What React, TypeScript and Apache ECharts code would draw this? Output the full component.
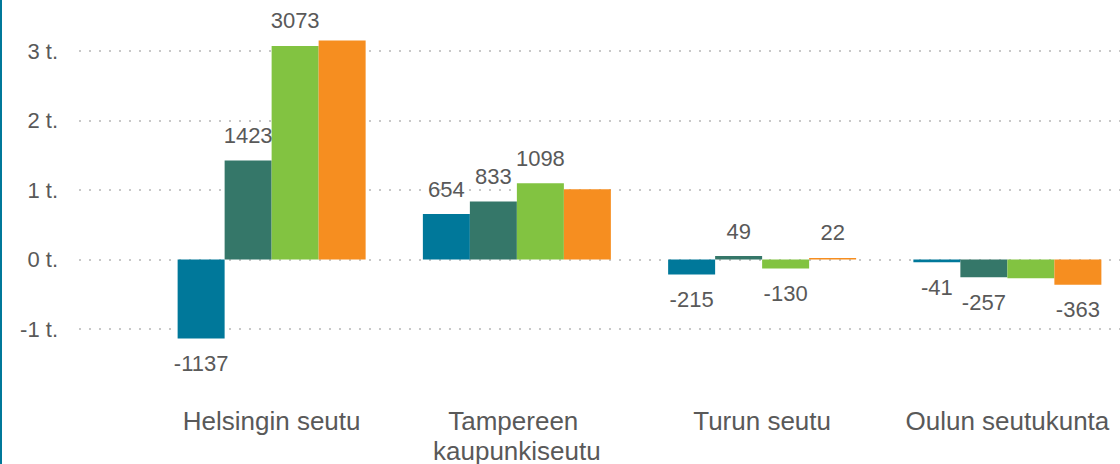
import React, { useEffect, useRef } from "react";
import * as echarts from "echarts";

const categories = ["Helsingin seutu", "Tampereen kaupunkiseutu", "Turun seutu", "Oulun seutukunta"];
const seriesA = [-1137, 654, -215, -41];
const seriesB = [1423, 833, 49, -257];
const seriesC = [3073, 1098, -130, -268];
const seriesD = [3150, 1010, 22, -363];
const showA = [true, true, true, true];
const showB = [true, true, true, true];
const showC = [true, true, true, false];
const showD = [false, false, true, true];
const colors = ["#00789A", "#357769", "#82C341", "#F68E20"];
const yTicks = { min: -1000, max: 3000, interval: 1000 };

const FONT = "'Liberation Sans', Arial, sans-serif";
const TEXT = "#595959";

function mkData(vals: number[], shows: boolean[]) {
  return vals.map((v, i) => ({
    value: v,
    label: {
      show: shows[i],
      position: v >= 0 ? "top" : "bottom",
      distance: 14,
    },
  }));
}

export default function App() {
  const ref = useRef<HTMLDivElement>(null);
  useEffect(() => {
    if (!ref.current) return;
    const chart = echarts.init(ref.current, undefined, { renderer: "svg" });
    const sets = [
      [seriesA, showA],
      [seriesB, showB],
      [seriesC, showC],
      [seriesD, showD],
    ] as const;
    chart.setOption({
      animation: false,
      graphic: [
        {
          type: "rect",
          shape: { x: 0, y: 0, width: 2, height: 464 },
          style: { fill: "#00789A" },
        },
      ],
      grid: [
        { left: 149, width: 981, top: 51, height: 278, outerBoundsMode: "none", containLabel: false },
        { left: 79, right: 0, top: 51, height: 278, outerBoundsMode: "none", containLabel: false },
      ],
      xAxis: [
        {
          type: "category",
          gridIndex: 0,
          data: categories,
          axisLine: { show: false },
          axisTick: { show: false },
          axisLabel: {
            interval: 0,
            margin: 77,
            color: TEXT,
            fontSize: 26,
            lineHeight: 30,
            fontFamily: FONT,
            width: 240,
            overflow: "break",
          },
        },
        {
          type: "value",
          gridIndex: 1,
          show: false,
          min: 0,
          max: 1,
        },
      ],
      yAxis: [
        {
          type: "value",
          gridIndex: 0,
          ...yTicks,
          axisLine: { show: false },
          axisTick: { show: false },
          axisLabel: { show: false },
          splitLine: { show: false },
        },
        {
          type: "value",
          gridIndex: 1,
          ...yTicks,
          axisLine: { show: false },
          axisTick: { show: false },
          axisLabel: {
            margin: 21,
            color: TEXT,
            fontSize: 22,
            fontFamily: FONT,
            formatter: (v: number) => `${v / 1000} t.`,
          },
          splitLine: {
            show: true,
            lineStyle: { color: "#c8c8c8", width: 2, type: [2, 8] },
          },
        },
      ],
      series: sets.map(([vals, shows], i) => ({
        type: "bar",
        xAxisIndex: 0,
        yAxisIndex: 0,
        barWidth: 47,
        barGap: "0%",
        clip: false,
        itemStyle: { color: colors[i] },
        label: {
          color: TEXT,
          fontSize: 22,
          fontFamily: FONT,
        },
        data: mkData(vals as number[], shows as boolean[]),
      })),
    });
    return () => chart.dispose();
  }, []);
  return (
    <div
      ref={ref}
      style={{ position: "fixed", left: 0, top: 0, width: 1120, height: 464, background: "#fff" }}
    />
  );
}
